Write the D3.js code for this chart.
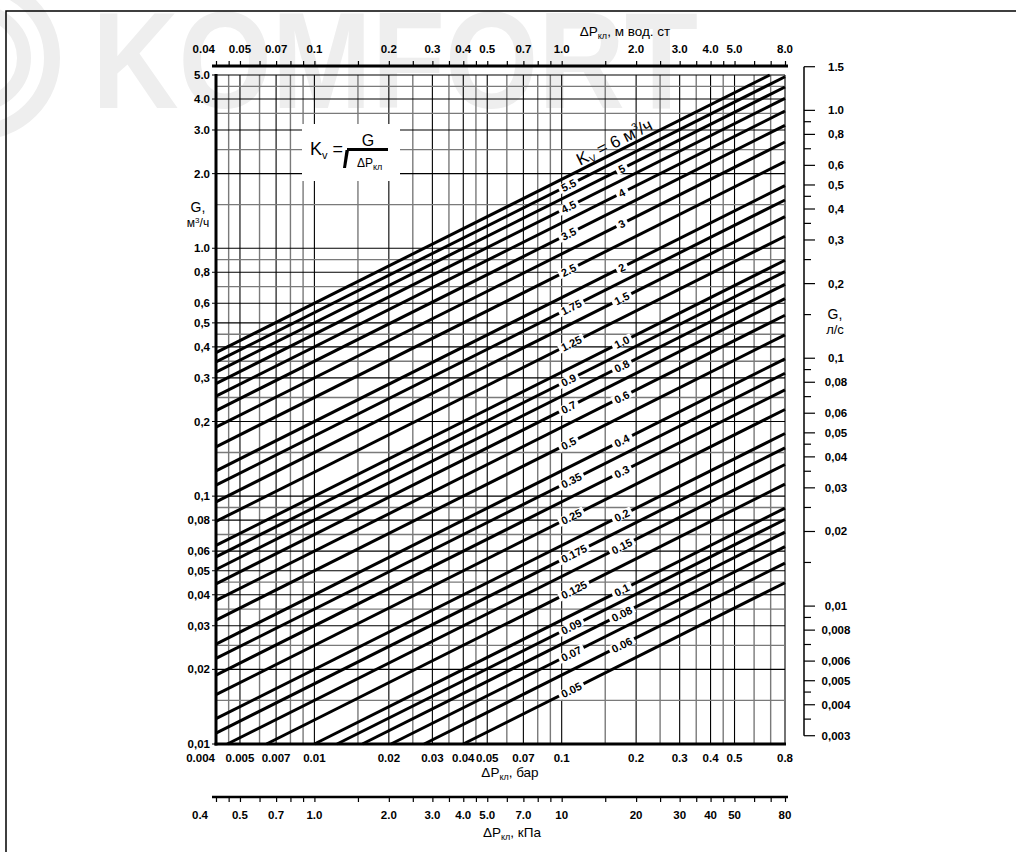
<!DOCTYPE html>
<html><head><meta charset="utf-8">
<script src="https://cdn.jsdelivr.net/npm/d3@7"></script>
<style>
body{margin:0;background:#fff}
svg{display:block}
text{font-family:"Liberation Sans",Arial,Helvetica,sans-serif;fill:#000}
</style>
</head><body>
<svg id="c" width="1016" height="852"></svg>
<script>
// ---------------- data ----------------
const kvValues = [6,5.5,5,4.5,4,3.5,3,2.5,2,1.75,1.5,1.25,1.0,0.9,0.8,0.7,0.6,0.5,0.4,0.35,0.3,0.25,0.2,0.175,0.15,0.125,0.1,0.09,0.08,0.07,0.06,0.05];
const kvLabels = ["6","5.5","5","4.5","4","3.5","3","2.5","2","1.75","1.5","1.25","1.0","0.9","0.8","0.7","0.6","0.5","0.4","0.35","0.3","0.25","0.2","0.175","0.15","0.125","0.1","0.09","0.08","0.07","0.06","0.05"];
const xGrid = [0.004,0.0045,0.005,0.006,0.007,0.008,0.009,0.01,0.015,0.02,0.025,0.03,0.035,0.04,0.045,0.05,0.06,0.07,0.08,0.09,0.1,0.15,0.2,0.25,0.3,0.35,0.4,0.45,0.5,0.6,0.7,0.8];
const yGrid = [5.0,4.5,4.0,3.5,3.0,2.5,2.0,1.5,1.0,0.9,0.8,0.7,0.6,0.5,0.45,0.4,0.35,0.3,0.25,0.2,0.15,0.1,0.09,0.08,0.07,0.06,0.05,0.045,0.04,0.035,0.03,0.025,0.02,0.015,0.01];
const yTicks = [5,4,3,2,1,0.8,0.6,0.5,0.4,0.3,0.2,0.1,0.08,0.06,0.05,0.04,0.03,0.02,0.01];
const yTickLabels = ["5.0","4.0","3.0","2.0","1.0","0,8","0,6","0,5","0,4","0,3","0,2","0,1","0,08","0,06","0,05","0,04","0,03","0,02","0,01"];
const barTicks = [0.004,0.005,0.007,0.01,0.02,0.03,0.04,0.05,0.07,0.1,0.2,0.3,0.4,0.5,0.8];
const barTickLabels = ["0.004","0.005","0.007","0.01","0.02","0.03","0.04","0.05","0.07","0.1","0.2","0.3","0.4","0.5","0.8"];
const mTicks = [0.04,0.05,0.07,0.1,0.2,0.3,0.4,0.5,0.7,1,2,3,4,5,8];
const mTickLabels = ["0.04","0.05","0.07","0.1","0.2","0.3","0.4","0.5","0.7","1.0","2.0","3.0","4.0","5.0","8.0"];
const kpaTicks = [0.4,0.5,0.7,1,2,3,4,5,7,10,20,30,40,50,80];
const kpaTickLabels = ["0.4","0.5","0.7","1.0","2.0","3.0","4.0","5.0","7.0","10","20","30","40","50","80"];
const lpsMajor = [1.5,1.0,0.8,0.6,0.5,0.4,0.3,0.2,0.1,0.08,0.06,0.05,0.04,0.03,0.02,0.01,0.008,0.006,0.005,0.004,0.003];
const lpsMajorLabels = ["1.5","1.0","0,8","0,6","0,5","0,4","0,3","0,2","0,1","0,08","0,06","0,05","0,04","0,03","0,02","0,01","0,008","0,006","0,005","0,004","0,003"];
const lpsMinor = [0.9,0.7,0.45,0.35,0.25,0.15,0.09,0.07,0.045,0.035,0.025,0.015,0.009,0.007,0.0045,0.0035];

// ---------------- layout ----------------
const X0=216, X1=785, Y0=744, Y1=75;
const svg = d3.select("#c");
const x  = d3.scaleLog().domain([0.004,0.8]).range([X0,X1]);
const y  = d3.scaleLog().domain([0.01,5]).range([Y0,Y1]);
const xm = d3.scaleLog().domain([0.04,8]).range([X0,X1]);
const xk = d3.scaleLog().domain([0.4,80]).range([X0,X1]);
const yl = d3.scaleLog().domain([0.01/3.6,5/3.6]).range([Y0,Y1]);
const near = (arr,v) => arr.some(t=>Math.abs(t-v)/v<1e-6);
const TF = 11.5;

// watermark
const WM="#eeeeee";
svg.append("circle").attr("cx",-22).attr("cy",58).attr("r",74).attr("fill","none").attr("stroke",WM).attr("stroke-width",16);
svg.append("circle").attr("cx",-22).attr("cy",58).attr("r",46).attr("fill","none").attr("stroke",WM).attr("stroke-width",14);
svg.append("text").text("KOMFORT").attr("x",92).attr("y",108).attr("font-size",138)
  .attr("font-weight","bold").style("fill",WM).attr("textLength",606).attr("lengthAdjust","spacingAndGlyphs");

// frame
svg.append("path").attr("d","M6,852 L6,11 L1016,11").attr("fill","none").attr("stroke","#000").attr("stroke-width",1.5);

// grid
svg.append("g").selectAll("line").data(xGrid).join("line")
  .attr("x1",d=>x(d)).attr("x2",d=>x(d)).attr("y1",Y1).attr("y2",Y0)
  .attr("stroke",d=>near(barTicks,d)?"#000":"#7a7a7a")
  .attr("stroke-width",d=>near(barTicks,d)?1.1:1.4);
svg.append("g").selectAll("line").data(yGrid).join("line")
  .attr("y1",d=>y(d)).attr("y2",d=>y(d)).attr("x1",X0).attr("x2",X1)
  .attr("stroke",d=>near(yTicks,d)?"#000":"#7a7a7a")
  .attr("stroke-width",d=>near(yTicks,d)?1.1:1.4);

// formula box
const fb = svg.append("g");
fb.append("rect").attr("x",302).attr("y",124).attr("width",98).attr("height",57).attr("fill","#fff");
const kt = fb.append("text").attr("x",310).attr("y",155).attr("font-size",18);
kt.append("tspan").text("K");
kt.append("tspan").text("v").attr("font-size",11).attr("dy",4);
kt.append("tspan").text(" =").attr("dy",-4);
fb.append("text").text("G").attr("x",368).attr("y",146).attr("font-size",16).attr("text-anchor","middle");
fb.append("line").attr("x1",347).attr("x2",388).attr("y1",149.5).attr("y2",149.5).attr("stroke","#000").attr("stroke-width",3);
fb.append("path").attr("d","M345.5,150 L349,150 L346,168 L343,168 Z").attr("fill","#000");
const dp = fb.append("text").attr("x",357).attr("y",167).attr("font-size",12);
dp.append("tspan").text("ΔP");
dp.append("tspan").text("кл").attr("font-size",9).attr("dy",3);

// Kv lines
const lineGen = d3.line().x(d=>x(d[0])).y(d=>y(d[1]));
const kvSeg = kv => {
  const a = Math.max(0.004, Math.pow(0.01/kv,2));
  const b = Math.min(0.8, Math.pow(5/kv,2));
  return [[a,kv*Math.sqrt(a)],[b,kv*Math.sqrt(b)]];
};
svg.append("g").selectAll("path").data(kvValues).join("path")
  .attr("d",d=>lineGen(kvSeg(d))).attr("fill","none").attr("stroke","#000").attr("stroke-width",3);

// Kv labels
const ang = Math.atan2(y(Math.sqrt(0.8))-y(Math.sqrt(0.008)), x(0.8)-x(0.008))*180/Math.PI;
const LEFT_DP = 0.1, RIGHT_DP = 0.175;
const lblG = svg.append("g");
kvValues.forEach((kv,i)=>{
  if(i===0) return;
  const left = (i%2===1);
  const p = left?LEFT_DP:RIGHT_DP;
  const g = lblG.append("g").attr("transform",`translate(${x(p)},${y(kv*Math.sqrt(p))}) rotate(${ang})`);
  const t = g.append("text").text(kvLabels[i]).attr("text-anchor",left?"start":"middle")
    .attr("dominant-baseline","central").attr("font-weight","bold").attr("font-size",11);
  const bb = t.node().getBBox();
  g.insert("rect","text").attr("x",bb.x-3).attr("y",-4.5).attr("width",bb.width+6).attr("height",9).attr("fill","#fff");
});
// Kv = 6 title
{
  const p=0.17, kv=kvValues[0];
  const g = lblG.append("g").attr("transform",`translate(${x(p)},${y(kv*Math.sqrt(p))}) rotate(${ang})`);
  const t = g.append("text").attr("text-anchor","middle").attr("y",-4).attr("font-size",17);
  t.append("tspan").text("K");
  t.append("tspan").text("V").attr("font-size",10).attr("dy",3);
  t.append("tspan").text(" = " + kvLabels[0] + " м").attr("dy",-3);
  t.append("tspan").text("3").attr("font-size",10).attr("dy",-7);
  t.append("tspan").text("/ч").attr("dy",7);
}

// axes frames
svg.append("line").attr("x1",X0).attr("x2",X0).attr("y1",Y1-1).attr("y2",Y0+1.5).attr("stroke","#000").attr("stroke-width",3);
svg.append("line").attr("x1",X0-1.5).attr("x2",X1+1).attr("y1",Y0).attr("y2",Y0).attr("stroke","#000").attr("stroke-width",3);

// left axis
svg.append("g").selectAll("line").data(yTicks).join("line")
  .attr("x1",X0-4).attr("x2",X0).attr("y1",d=>y(d)).attr("y2",d=>y(d)).attr("stroke","#000").attr("stroke-width",1);
svg.append("g").selectAll("text").data(yTicks).join("text")
  .attr("x",210).attr("y",d=>y(d)+4).attr("text-anchor","end")
  .attr("font-weight","bold").attr("font-size",TF).text((d,i)=>yTickLabels[i]);
svg.append("text").text("G,").attr("x",198).attr("y",212).attr("text-anchor","middle").attr("font-size",14);
{
  const t=svg.append("text").attr("x",198).attr("y",227).attr("text-anchor","middle").attr("font-size",12);
  t.append("tspan").text("м");
  t.append("tspan").text("3").attr("font-size",8).attr("dy",-4);
  t.append("tspan").text("/ч").attr("dy",4);
}

// bottom bar labels
svg.append("g").selectAll("text").data(barTicks).join("text")
  .attr("x",(d,i)=>i===0?X0-1:x(d)).attr("y",762).attr("text-anchor",(d,i)=>i===0?"end":"middle")
  .attr("font-weight","bold").attr("font-size",TF).text((d,i)=>barTickLabels[i]);
function dpTitle(cx,cy,rest){
  const t=svg.append("text").attr("x",cx).attr("y",cy).attr("text-anchor","middle").attr("font-size",13.5);
  t.append("tspan").text("ΔP");
  t.append("tspan").text("кл").attr("font-size",9).attr("dy",3);
  t.append("tspan").text(rest).attr("dy",-3);
}
dpTitle(510,777,", бар");

// top axis (m water column)
const topAx = svg.append("g").attr("transform","translate(0,66)")
  .call(d3.axisTop(xm).tickValues(xGrid.map(d=>d*10)).tickSize(5).tickSizeOuter(0).tickFormat(""));
topAx.select(".domain").remove();
topAx.selectAll(".tick line").attr("stroke","#000").attr("stroke-width",1.2);
svg.append("line").attr("x1",212).attr("x2",788).attr("y1",66).attr("y2",66).attr("stroke","#000").attr("stroke-width",3);
svg.append("g").selectAll("text").data(mTicks).join("text")
  .attr("x",(d,i)=>i===0?X0-1:xm(d)).attr("y",53).attr("text-anchor",(d,i)=>i===0?"end":"middle")
  .attr("font-weight","bold").attr("font-size",TF).text((d,i)=>mTickLabels[i]);
dpTitle(625,36,", м вод. ст");

// bottom kPa axis
const kAx = svg.append("g").attr("transform","translate(0,797)")
  .call(d3.axisBottom(xk).tickValues(xGrid.map(d=>d*100)).tickSize(5).tickSizeOuter(0).tickFormat(""));
kAx.select(".domain").remove();
kAx.selectAll(".tick line").attr("stroke","#000").attr("stroke-width",1.2);
svg.append("line").attr("x1",212).attr("x2",788).attr("y1",797).attr("y2",797).attr("stroke","#000").attr("stroke-width",2.5);
svg.append("g").selectAll("text").data(kpaTicks).join("text")
  .attr("x",(d,i)=>i===0?X0-8:xk(d)).attr("y",819).attr("text-anchor",(d,i)=>i===0?"end":"middle")
  .attr("font-weight","bold").attr("font-size",TF).text((d,i)=>kpaTickLabels[i]);
dpTitle(512,837,",  кПа");

// right axis (l/s)
const RX=804;
svg.append("line").attr("x1",RX).attr("x2",RX).attr("y1",yl(1.5)).attr("y2",yl(0.003)).attr("stroke","#000").attr("stroke-width",1.5);
svg.append("g").selectAll("line").data(lpsMajor).join("line")
  .attr("x1",RX).attr("x2",RX+11).attr("y1",d=>yl(d)).attr("y2",d=>yl(d)).attr("stroke","#000").attr("stroke-width",1.2);
svg.append("g").selectAll("line").data(lpsMinor).join("line")
  .attr("x1",RX).attr("x2",RX+7).attr("y1",d=>yl(d)).attr("y2",d=>yl(d)).attr("stroke","#000").attr("stroke-width",1.2);
svg.append("g").selectAll("text").data(lpsMajor).join("text")
  .attr("x",836).attr("y",d=>yl(d)+4).attr("text-anchor","middle")
  .attr("font-weight","bold").attr("font-size",TF).text((d,i)=>lpsMajorLabels[i]);
svg.append("text").text("G,").attr("x",835).attr("y",319).attr("text-anchor","middle").attr("font-size",14);
svg.append("text").text("л/с").attr("x",835).attr("y",334).attr("text-anchor","middle").attr("font-size",13);
</script>
</body></html>
